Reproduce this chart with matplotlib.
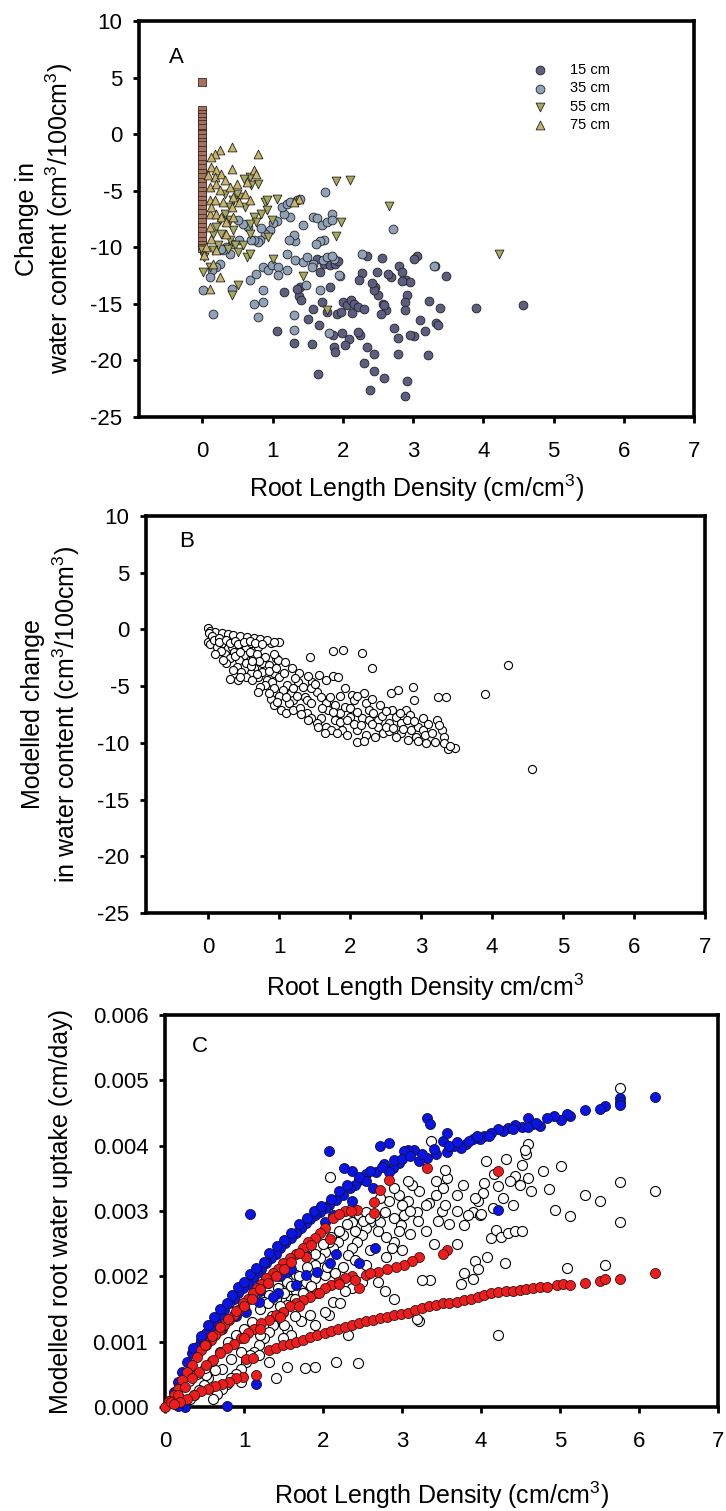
import matplotlib
matplotlib.use("Agg")
import matplotlib.pyplot as plt
import numpy as np

plt.rcParams['font.family'] = ['Liberation Sans', 'DejaVu Sans']
plt.rcParams['mathtext.default'] = 'regular'
plt.rcParams['axes.unicode_minus'] = False

## Panel A - measured change in water content vs RLD (x, y pairs)
a_15cm = [(4.57, -15.12), (3.89, -15.33), (3.47, -12.56), (3.31, -11.68), (3.23, -14.76),
          (3.39, -15.33), (3.33, -16.68), (3.35, -16.90), (3.17, -17.43), (3.21, -19.56),
          (3.10, -16.40), (3.02, -17.87), (2.95, -17.78), (2.92, -21.80), (2.88, -23.15),
          (2.78, -19.40), (2.79, -17.99), (2.73, -17.10), (3.06, -10.80), (3.02, -11.06),
          (2.90, -12.92), (2.95, -13.07), (2.91, -14.25), (2.88, -14.84), (2.88, -15.57),
          (2.80, -11.68), (2.84, -12.19), (2.85, -12.98), (2.68, -12.62), (2.64, -12.33),
          (2.61, -15.57), (2.57, -15.04), (2.54, -15.93), (2.50, -14.25), (2.49, -12.19),
          (2.56, -10.95), (2.46, -13.50), (2.44, -13.75), (2.41, -13.16), (2.35, -10.80),
          (2.27, -12.27), (2.23, -12.92), (2.25, -17.78), (2.21, -17.50), (2.35, -18.80),
          (2.45, -19.46), (2.30, -20.23), (2.45, -20.94), (2.58, -21.56), (2.39, -22.65),
          (2.09, -18.13), (2.03, -18.60), (1.99, -17.58), (1.87, -18.80), (1.89, -19.26),
          (1.86, -17.78), (1.92, -15.87), (1.98, -15.72), (2.01, -14.84), (2.06, -15.13),
          (2.11, -14.63), (2.16, -14.98), (2.21, -15.28), (2.30, -15.43), (2.13, -15.81),
          (1.82, -13.51), (1.70, -14.84), (1.78, -15.72), (1.58, -15.43), (1.51, -16.31),
          (1.66, -16.90), (1.56, -18.58), (1.65, -21.17), (1.39, -13.51), (1.37, -14.34),
          (1.41, -14.63), (1.35, -13.66), (1.17, -13.95), (1.07, -17.43), (1.31, -18.43),
          (1.68, -12.19), (1.73, -11.45), (1.82, -11.60), (1.89, -11.45), (1.93, -11.24),
          (1.63, -11.00), (2.59, -15.13)]

a_35cm = [(1.75, -5.12), (1.84, -7.03), (2.72, -8.36), (3.30, -11.68), (2.27, -10.62),
          (1.96, -12.51), (1.31, -16.02), (1.31, -17.34), (1.32, -9.48), (1.44, -8.06),
          (1.58, -7.32), (1.63, -7.38), (1.70, -8.00), (1.77, -7.77), (1.85, -7.62),
          (1.73, -9.33), (1.68, -9.45), (1.62, -9.68), (1.58, -11.45), (1.72, -11.10),
          (1.78, -10.86), (1.87, -11.01), (1.30, -8.89), (1.23, -9.39), (1.25, -7.32),
          (1.16, -7.03), (1.13, -6.44), (1.20, -6.15), (1.25, -6.00), (1.35, -5.85),
          (1.39, -5.70), (1.07, -7.68), (1.01, -7.86), (0.96, -8.50), (0.89, -8.80),
          (0.84, -8.30), (0.82, -9.39), (0.80, -9.53), (0.74, -9.39), (0.70, -9.33),
          (0.65, -8.21), (0.58, -7.91), (0.51, -7.62), (0.53, -9.39), (0.43, -9.68),
          (0.39, -10.57), (0.34, -9.98), (0.30, -10.27), (0.27, -10.12), (0.25, -11.45),
          (0.20, -11.74), (0.14, -12.04), (0.11, -12.63), (0.01, -13.80), (0.15, -15.93),
          (0.42, -13.66), (0.73, -14.99), (0.80, -16.16), (0.87, -14.84), (0.87, -13.81),
          (0.68, -12.92), (0.77, -12.33), (0.87, -11.74), (0.94, -12.04), (0.99, -11.60),
          (1.08, -11.74), (1.08, -12.48), (1.20, -12.04), (1.20, -10.57), (1.32, -11.16),
          (1.44, -11.30), (1.47, -13.37), (1.49, -10.86), (1.56, -11.74), (1.81, -17.58),
          (1.94, -12.48), (1.68, -13.81), (1.85, -10.80)]

a_55cm = [(1.90, -4.17), (2.10, -4.08), (2.66, -6.38), (4.22, -10.57), (1.98, -7.77),
          (1.90, -9.03), (1.43, -12.57), (1.78, -15.57), (1.01, -11.07), (1.06, -5.70),
          (0.89, -6.00), (0.92, -6.74), (0.80, -4.38), (0.68, -3.79), (0.70, -4.53),
          (0.60, -3.94), (0.53, -5.56), (0.49, -5.26), (0.44, -5.85), (0.39, -6.44),
          (0.32, -7.03), (0.25, -7.62), (0.20, -8.21), (0.15, -8.80), (0.39, -7.62),
          (0.44, -8.50), (0.39, -9.39), (0.37, -10.12), (0.46, -9.83), (0.51, -10.42),
          (0.63, -10.86), (0.68, -10.57), (0.58, -9.83), (0.68, -8.80), (0.73, -7.32),
          (0.77, -7.77), (0.84, -7.03), (0.92, -5.85), (0.27, -8.80), (0.22, -9.83),
          (0.15, -10.27), (0.03, -10.86), (0.01, -12.19), (0.11, -11.74), (0.51, -13.37),
          (0.42, -14.25), (0.00, -10.27), (0.68, -7.91), (0.61, -6.44), (0.99, -7.62),
          (0.94, -9.09), (0.32, -5.26)]

a_75cm = [(0.42, -1.14), (0.25, -1.43), (0.18, -1.73), (0.13, -2.02), (0.80, -1.73),
          (0.13, -2.90), (0.20, -3.20), (0.18, -3.79), (0.42, -3.05), (0.27, -3.49),
          (0.32, -4.08), (0.11, -4.67), (0.20, -4.38), (0.25, -4.97), (0.39, -4.67),
          (0.49, -4.38), (0.63, -4.23), (0.73, -3.20), (0.77, -3.49), (0.11, -5.85),
          (0.18, -5.85), (0.30, -6.00), (0.44, -5.56), (0.11, -7.03), (0.20, -7.03),
          (0.27, -7.32), (0.11, -8.21), (0.13, -9.24), (0.06, -9.98), (0.03, -10.71),
          (0.25, -12.63), (0.11, -13.66), (0.20, -10.27), (0.34, -8.80), (0.42, -6.44),
          (0.53, -6.00), (0.61, -5.26), (0.68, -5.85), (1.37, -5.70), (1.30, -6.00),
          (0.44, -7.32), (0.08, -3.64), (0.13, -6.44), (0.34, -7.77), (0.15, -11.45)]

# squares sitting on RLD = 0
a_zero = [4.6, 2.1, 1.8, 1.5, 1.2, 0.9, 0.5, 0.1, 0.0, -0.3, -0.7, -1.0, -1.4, -1.8,
          -2.2, -2.6, -3.0, -3.4, -3.8, -4.2, -4.6, -5.0, -5.4, -5.8, -6.2, -6.6, -7.0,
          -7.4, -7.8, -8.2, -8.6, -9.0, -9.4, -9.8, -10.1]

## Panel B - modelled change in water content
b_model = [(4.56, -12.3), (4.23, -3.14), (3.90, -5.66), (3.35, -5.99), (3.24, -5.99),
           (1.43, -2.40), (1.76, -1.88), (1.90, -1.80), (2.16, -2.10), (2.31, -3.40),
           (3.48, -10.50), (3.38, -10.56), (2.89, -5.05), (2.90, -6.20), (2.67, -5.30),
           (2.57, -5.60), (1.75, -4.10), (1.83, -4.20), (1.56, -4.00), (0.30, -4.40),
           (0.42, -4.46), (1.00, -1.09), (0.88, -1.18),
           (0.00, 0.09), (0.03, -0.12), (0.10, -0.20), (0.19, -0.35), (0.27, -0.44),
           (0.35, -0.50), (0.45, -0.59), (0.55, -0.70), (0.64, -0.79), (0.73, -0.88),
           (0.83, -0.94), (0.93, -1.09), (0.01, -0.35), (0.00, -1.10), (0.03, -1.30),
           (0.12, -1.53), (0.20, -1.23), (0.27, -1.67), (0.33, -1.53), (0.23, -2.17),
           (0.36, -1.97), (0.46, -1.53), (0.53, -1.67), (0.60, -1.23), (0.70, -1.53),
           (0.63, -2.41), (0.50, -2.26), (0.43, -2.70), (0.40, -3.29), (0.53, -2.99),
           (0.65, -3.43), (0.76, -2.99), (0.86, -3.14), (0.96, -2.55), (0.98, -2.70),
           (0.80, -2.41), (0.46, -3.73), (0.60, -3.87), (0.70, -4.17), (0.53, -4.17),
           (0.76, -3.73), (0.83, -4.46), (0.92, -3.87), (1.00, -4.17), (0.90, -4.61),
           (0.80, -4.90), (0.73, -5.05), (0.93, -5.19), (0.88, -6.16), (0.93, -6.66),
           (1.06, -3.87), (1.11, -4.90), (1.16, -5.63), (1.26, -4.61), (1.28, -3.87),
           (1.33, -5.05), (1.36, -5.93), (1.39, -6.22), (1.19, -6.22), (1.13, -6.52),
           (1.03, -7.10), (1.09, -7.40), (1.19, -7.10), (1.29, -6.96), (1.39, -7.40),
           (1.45, -6.52), (1.53, -5.49), (1.59, -5.93), (1.66, -6.52), (1.69, -7.10),
           (1.59, -7.84), (1.53, -8.28), (1.66, -8.57), (1.73, -8.86), (1.79, -7.98),
           (1.86, -7.40), (1.92, -6.81), (1.92, -5.19), (2.02, -5.78), (2.06, -6.22),
           (1.99, -7.69), (1.89, -8.86), (1.82, -9.15), (1.96, -9.30), (2.09, -8.86),
           (2.09, -9.89), (2.16, -7.84), (2.22, -6.52), (2.26, -7.10), (2.27, -7.98),
           (2.32, -7.40), (2.39, -7.98), (2.42, -6.66), (2.22, -9.30), (2.39, -8.57),
           (2.46, -9.15), (2.55, -8.28), (2.55, -9.00), (2.59, -7.10), (2.65, -7.69),
           (2.72, -8.28), (2.79, -7.10), (2.84, -7.54), (2.85, -8.86), (2.82, -9.74),
           (2.92, -9.45), (2.95, -8.57), (3.02, -7.84), (3.02, -8.86), (3.07, -10.04),
           (3.19, -9.89), (3.22, -7.98), (3.30, -8.86), (3.32, -9.45), (3.32, -10.04),
           (2.72, -9.15), (1.66, -4.46), (1.46, -4.61),
           (0.05, -0.60), (0.08, -0.90), (0.15, -0.80), (0.15, -1.10), (0.25, -0.90),
           (0.30, -1.20), (0.38, -1.00), (0.42, -1.30), (0.50, -1.10), (0.58, -1.00),
           (0.66, -1.20), (0.75, -1.30), (0.18, -1.90), (0.30, -2.50), (0.38, -2.30),
           (0.45, -2.00), (0.58, -2.00), (0.68, -2.20), (0.72, -2.80), (0.60, -3.20),
           (0.35, -3.60), (0.45, -4.20), (0.62, -4.50), (0.68, -3.90), (0.85, -3.70),
           (0.95, -3.40), (0.92, -2.20), (1.08, -2.90), (1.18, -3.40), (1.22, -4.30),
           (1.40, -4.10), (1.45, -5.20), (1.50, -4.80), (1.05, -5.30), (1.00, -5.90),
           (1.20, -5.20), (1.25, -5.90), (1.10, -6.00), (1.30, -7.50), (1.45, -7.80),
           (1.60, -6.90), (1.72, -6.00), (1.78, -6.70), (1.85, -5.90), (1.75, -7.30),
           (1.85, -8.20), (1.95, -8.00), (2.00, -6.90), (2.10, -7.30), (2.05, -8.30),
           (2.15, -8.40), (2.20, -9.80), (2.30, -8.30), (2.35, -9.50), (2.45, -7.60),
           (2.50, -8.60), (2.60, -8.70), (2.65, -9.50), (2.70, -7.40), (2.75, -8.80),
           (2.80, -8.00), (2.90, -8.10), (2.95, -9.80), (3.05, -9.30), (3.10, -8.30),
           (3.15, -9.10), (3.25, -8.40), (3.40, -10.30), (1.65, -9.10), (1.55, -8.60),
           (1.40, -8.00), (2.30, -6.10), (2.20, -5.60), (2.10, -5.90), (2.50, -7.20),
           (0.97, -6.40), (0.85, -5.60), (0.70, -5.50), (0.62, -2.80), (0.25, -3.00),
           (0.20, -2.70), (0.10, -2.20)]

## Panel C - modelled root water uptake (cm/day)
c_open = [(5.76, 0.00488), (6.20, 0.00330), (5.76, 0.00344), (5.76, 0.00284), (5.50, 0.00316),
          (5.31, 0.00325), (5.13, 0.00293), (4.94, 0.00302), (5.01, 0.00369), (4.86, 0.00334),
          (4.78, 0.00362), (4.60, 0.00402), (4.57, 0.00388), (4.56, 0.00394), (4.60, 0.00351),
          (4.63, 0.00330), (4.49, 0.00340), (4.52, 0.00371), (4.43, 0.00353), (4.37, 0.00346),
          (4.31, 0.00379), (4.28, 0.00320), (4.22, 0.00338), (4.16, 0.00356), (4.06, 0.00376),
          (4.04, 0.00343), (4.02, 0.00328), (3.96, 0.00315), (3.90, 0.00299), (3.93, 0.00320),
          (3.84, 0.00294), (3.78, 0.00279), (3.99, 0.00294), (4.13, 0.00259), (4.19, 0.00271),
          (4.25, 0.00261), (4.34, 0.00266), (4.43, 0.00269), (4.52, 0.00269), (5.57, 0.00217),
          (5.09, 0.00213), (4.30, 0.00220), (4.07, 0.00230), (3.93, 0.00223), (3.96, 0.00212),
          (3.78, 0.00205), (3.75, 0.00189), (3.90, 0.00196), (4.21, 0.00110), (3.22, 0.00132),
          (3.36, 0.00195), (3.25, 0.00194), (3.77, 0.00340), (3.69, 0.00325), (3.57, 0.00351),
          (3.52, 0.00335), (3.43, 0.00325), (3.34, 0.00312), (3.19, 0.00299), (3.22, 0.00330),
          (3.13, 0.00340), (3.07, 0.00315), (3.02, 0.00294), (2.99, 0.00279), (2.96, 0.00269),
          (2.90, 0.00253), (2.87, 0.00243), (2.78, 0.00299), (2.72, 0.00284), (2.66, 0.00294),
          (2.60, 0.00284), (2.55, 0.00274), (2.49, 0.00264), (2.43, 0.00253), (2.37, 0.00243),
          (2.31, 0.00233), (2.25, 0.00264), (2.19, 0.00253), (2.13, 0.00243), (2.08, 0.00253),
          (2.02, 0.00238), (1.96, 0.00228), (1.90, 0.00218), (1.84, 0.00207), (1.78, 0.00197),
          (1.72, 0.00187), (1.66, 0.00177), (1.60, 0.00166), (1.55, 0.00156), (1.49, 0.00146),
          (1.43, 0.00136), (1.37, 0.00125), (1.31, 0.00115), (1.25, 0.00105), (1.19, 0.00095),
          (1.13, 0.00084), (1.08, 0.00079), (1.02, 0.00069), (0.96, 0.00059), (0.90, 0.00051),
          (0.84, 0.00044), (0.78, 0.00036), (0.72, 0.00028), (0.66, 0.00020), (0.61, 0.00013),
          (1.72, 0.00131), (1.55, 0.00120), (1.60, 0.00110), (1.49, 0.00105), (1.84, 0.00141),
          (2.13, 0.00161), (2.22, 0.00159), (2.08, 0.00141), (1.90, 0.00125), (2.02, 0.00146),
          (2.31, 0.00110), (2.16, 0.00069), (2.44, 0.00068), (1.90, 0.00061), (1.77, 0.00060),
          (1.55, 0.00061), (1.41, 0.00044), (1.31, 0.00069), (1.19, 0.00079), (0.96, 0.00084),
          (0.84, 0.00074), (0.72, 0.00059), (0.55, 0.00044), (0.49, 0.00033), (0.43, 0.00026),
          (0.37, 0.00018), (0.31, 0.00013), (0.22, 0.00008), (2.09, 0.00352), (2.37, 0.00305),
          (2.55, 0.00218), (2.69, 0.00192), (2.90, 0.00166), (2.78, 0.00177), (2.49, 0.00192),
          (2.37, 0.00182), (2.28, 0.00177), (2.02, 0.00202), (1.90, 0.00197), (1.78, 0.00192),
          (1.66, 0.00202), (1.55, 0.00192), (1.43, 0.00182), (1.31, 0.00172), (1.25, 0.00161),
          (2.37, 0.00284), (2.46, 0.00294), (2.55, 0.00299), (2.84, 0.00315), (2.96, 0.00325),
          (3.07, 0.00346), (2.90, 0.00335), (2.72, 0.00320), (3.43, 0.00346), (3.55, 0.00363),
          (3.37, 0.00407), (3.19, 0.00135), (0.55, 0.00115), (0.63, 0.00056), (0.52, 0.00049),
          (0.96, 0.00038),
          (1.20, 0.00150), (1.30, 0.00160), (1.40, 0.00165), (1.50, 0.00175), (1.60, 0.00185),
          (1.70, 0.00200), (1.80, 0.00215), (1.90, 0.00235), (2.00, 0.00250), (2.10, 0.00260),
          (2.20, 0.00270), (2.30, 0.00280), (2.40, 0.00270), (2.50, 0.00285), (2.60, 0.00290),
          (2.70, 0.00270), (2.80, 0.00260), (2.90, 0.00290), (3.00, 0.00310), (3.10, 0.00300),
          (3.20, 0.00285), (3.30, 0.00310), (3.50, 0.00300), (3.60, 0.00280), (3.70, 0.00300),
          (1.00, 0.00120), (1.10, 0.00130), (1.20, 0.00110), (1.35, 0.00140), (1.45, 0.00155),
          (1.65, 0.00165), (1.75, 0.00175), (1.85, 0.00185), (2.05, 0.00215), (2.15, 0.00205),
          (2.25, 0.00215), (2.40, 0.00225), (2.60, 0.00240), (0.80, 0.00100), (0.70, 0.00085),
          (0.60, 0.00070), (0.50, 0.00060), (0.40, 0.00050), (0.30, 0.00040), (0.90, 0.00110),
          (1.50, 0.00125), (1.65, 0.00140), (2.80, 0.00230), (3.00, 0.00240), (3.10, 0.00265),
          (3.30, 0.00270), (3.45, 0.00285), (3.55, 0.00310), (4.00, 0.00295), (4.15, 0.00305),
          (4.40, 0.00310), (3.40, 0.00250), (3.70, 0.00250)]

c_blue = [(6.20, 0.00475), (5.76, 0.00473), (5.76, 0.00467), (5.76, 0.00463), (5.57, 0.00461),
          (5.50, 0.00457), (5.31, 0.00454), (5.13, 0.00445), (5.09, 0.00449), (5.01, 0.00440),
          (4.93, 0.00445), (4.84, 0.00442), (4.75, 0.00430), (4.66, 0.00433), (4.59, 0.00442),
          (4.52, 0.00429), (4.43, 0.00432), (4.34, 0.00427), (4.28, 0.00422), (4.22, 0.00425),
          (4.13, 0.00420), (4.04, 0.00415), (3.99, 0.00410), (3.90, 0.00410), (3.81, 0.00402),
          (3.75, 0.00397), (3.66, 0.00399), (3.57, 0.00391), (3.52, 0.00408), (3.57, 0.00420),
          (3.43, 0.00387), (3.31, 0.00381), (3.22, 0.00376), (3.15, 0.00394), (3.07, 0.00393),
          (3.02, 0.00392), (2.96, 0.00374), (2.89, 0.00366), (2.83, 0.00360), (2.77, 0.00372),
          (2.67, 0.00360), (2.83, 0.00404), (2.72, 0.00399), (3.31, 0.00443), (3.36, 0.00433),
          (2.55, 0.00356), (2.46, 0.00348), (2.40, 0.00340), (2.37, 0.00361), (2.26, 0.00366),
          (2.34, 0.00335), (2.25, 0.00325), (2.16, 0.00317), (2.08, 0.00310), (2.02, 0.00305),
          (1.96, 0.00299), (1.90, 0.00294), (1.84, 0.00288), (1.78, 0.00282), (1.72, 0.00274),
          (1.66, 0.00266), (1.59, 0.00259), (1.52, 0.00251), (1.46, 0.00243), (1.40, 0.00235),
          (1.34, 0.00228), (1.28, 0.00220), (1.22, 0.00212), (1.16, 0.00205), (1.11, 0.00197),
          (1.05, 0.00189), (0.99, 0.00182), (0.93, 0.00174), (0.87, 0.00166), (0.81, 0.00159),
          (0.75, 0.00148), (0.69, 0.00141), (0.63, 0.00131), (0.58, 0.00120), (0.52, 0.00113),
          (0.46, 0.00102), (0.40, 0.00092), (0.34, 0.00082), (0.28, 0.00069), (0.22, 0.00054),
          (0.16, 0.00038), (0.11, 0.00023), (0.05, 0.00010), (1.08, 0.00296), (2.08, 0.00392),
          (4.22, 0.00302), (2.66, 0.00243), (2.09, 0.00221), (1.78, 0.00202), (1.93, 0.00207),
          (1.66, 0.00187), (1.43, 0.00174), (1.37, 0.00169), (1.19, 0.00161), (1.02, 0.00146),
          (0.72, 0.00120), (1.15, 0.00036), (0.78, 0.00002), (0.25, 0.00000), (0.16, 0.00002),
          (1.78, 0.00233), (2.16, 0.00235), (2.45, 0.00220), (1.55, 0.00207), (2.02, 0.00284),
          (2.13, 0.00294), (2.37, 0.00315), (2.55, 0.00346), (2.63, 0.00335),
          (0.35, 0.00090), (0.45, 0.00108), (0.55, 0.00125), (0.62, 0.00138), (0.70, 0.00150),
          (0.78, 0.00160), (0.85, 0.00172), (0.92, 0.00183), (1.00, 0.00192), (1.08, 0.00203),
          (1.15, 0.00213), (1.25, 0.00222), (1.32, 0.00236), (1.42, 0.00246), (1.50, 0.00256),
          (1.60, 0.00266), (1.70, 0.00280), (1.80, 0.00290), (1.88, 0.00300), (1.98, 0.00308),
          (2.10, 0.00318), (2.20, 0.00330), (2.30, 0.00340), (2.45, 0.00352), (2.60, 0.00362),
          (2.75, 0.00368), (2.90, 0.00378), (3.00, 0.00380), (3.10, 0.00384), (3.25, 0.00388),
          (3.40, 0.00395), (3.60, 0.00400), (3.70, 0.00405), (3.85, 0.00408), (3.95, 0.00415),
          (4.10, 0.00415), (4.40, 0.00425), (4.60, 0.00428), (4.70, 0.00435), (0.90, 0.00140),
          (1.00, 0.00155), (1.10, 0.00170), (1.20, 0.00178), (1.30, 0.00190), (1.45, 0.00200),
          (1.60, 0.00212)]

c_red = [(3.31, 0.00366), (2.84, 0.00347), (2.72, 0.00333), (2.65, 0.00314), (2.65, 0.00297),
         (2.43, 0.00302), (2.28, 0.00300), (2.13, 0.00289), (2.02, 0.00274), (1.96, 0.00266),
         (1.90, 0.00259), (1.81, 0.00253), (1.75, 0.00243), (1.66, 0.00235), (1.58, 0.00228),
         (1.49, 0.00220), (1.43, 0.00212), (1.37, 0.00205), (1.28, 0.00197), (1.22, 0.00189),
         (1.16, 0.00182), (1.11, 0.00174), (1.05, 0.00166), (0.99, 0.00159), (0.93, 0.00148),
         (0.87, 0.00141), (0.81, 0.00133), (0.75, 0.00125), (0.69, 0.00118), (0.63, 0.00110),
         (0.58, 0.00102), (0.52, 0.00095), (0.46, 0.00087), (0.40, 0.00077), (0.34, 0.00064),
         (0.28, 0.00054), (0.22, 0.00041), (0.16, 0.00028), (0.11, 0.00018), (0.05, 0.00009),
         (4.22, 0.00361), (2.09, 0.00257), (1.78, 0.00230), (0.00, 0.00000),
         (3.57, 0.00241), (3.52, 0.00235), (3.22, 0.00229), (3.13, 0.00224), (3.02, 0.00218),
         (2.93, 0.00215), (2.81, 0.00212), (2.69, 0.00207), (2.55, 0.00202), (2.45, 0.00182),
         (2.37, 0.00200), (2.28, 0.00197), (2.19, 0.00192), (2.10, 0.00187), (2.02, 0.00182),
         (1.93, 0.00174), (1.84, 0.00169), (1.75, 0.00164), (1.66, 0.00159), (1.58, 0.00154),
         (1.49, 0.00146), (1.40, 0.00141), (1.31, 0.00133), (1.22, 0.00128), (1.13, 0.00120),
         (1.05, 0.00113), (0.96, 0.00105), (0.87, 0.00097), (0.78, 0.00090), (0.69, 0.00082),
         (0.61, 0.00072), (0.52, 0.00064), (0.43, 0.00054), (0.34, 0.00044), (0.25, 0.00031),
         (0.16, 0.00018), (0.08, 0.00008),
         (1.15, 0.00049), (0.99, 0.00046), (0.90, 0.00044), (0.81, 0.00039), (0.72, 0.00036),
         (0.63, 0.00032), (0.55, 0.00028), (0.46, 0.00024), (0.37, 0.00018), (0.28, 0.00013),
         (0.19, 0.00008), (0.11, 0.00004),
         (1.02, 0.00074), (1.11, 0.00075), (1.31, 0.00087), (1.40, 0.00091), (1.49, 0.00095),
         (1.58, 0.00097), (1.66, 0.00100), (1.75, 0.00103), (1.84, 0.00107), (1.93, 0.00110),
         (2.02, 0.00113), (2.10, 0.00116), (2.19, 0.00120), (2.28, 0.00123), (2.37, 0.00125),
         (2.46, 0.00128), (2.55, 0.00132), (2.63, 0.00134), (2.72, 0.00136), (2.81, 0.00138),
         (2.90, 0.00141), (2.99, 0.00142), (3.07, 0.00144), (3.16, 0.00148), (3.25, 0.00151),
         (3.34, 0.00154), (3.43, 0.00156), (3.52, 0.00159), (3.60, 0.00160), (3.69, 0.00161),
         (3.78, 0.00164), (3.87, 0.00166), (3.96, 0.00169), (4.04, 0.00172), (4.13, 0.00174),
         (4.22, 0.00176), (4.31, 0.00177), (4.40, 0.00178), (4.49, 0.00179), (4.57, 0.00181),
         (4.66, 0.00182), (4.75, 0.00183), (4.84, 0.00184), (4.96, 0.00187), (5.04, 0.00189),
         (5.13, 0.00187), (5.31, 0.00190), (5.51, 0.00193), (5.57, 0.00196), (5.76, 0.00196),
         (6.20, 0.00205),
         (0.50, 0.00095), (0.60, 0.00108), (0.70, 0.00122), (0.80, 0.00135), (0.90, 0.00147),
         (1.00, 0.00155), (1.10, 0.00165), (1.20, 0.00180), (1.30, 0.00190), (1.40, 0.00200),
         (1.50, 0.00212), (1.60, 0.00222), (1.70, 0.00236), (1.85, 0.00248), (2.20, 0.00296),
         (2.35, 0.00300),
         (1.00, 0.00105), (1.20, 0.00120), (1.45, 0.00138), (1.70, 0.00155), (1.95, 0.00175),
         (2.20, 0.00188), (2.40, 0.00195), (2.60, 0.00205)]

cols_A = {'15 cm': '#5b5e80', '35 cm': '#8fa2b8', '55 cm': '#a9a95c', '75 cm': '#c9b46a'}


def style(ax):
    for s in ax.spines.values():
        s.set_linewidth(2.6)
    ax.tick_params(direction='out', length=4, width=2, labelsize=16)
    ax.tick_params(axis='x', pad=13)
    ax.tick_params(axis='y', pad=8)


fig = plt.figure(figsize=(7.26, 15.11), dpi=100)

## A
ax = fig.add_axes([0.1915, 0.724, 0.7645, 0.2621])
ax.scatter(np.zeros(len(a_zero)), a_zero, marker='s', s=34, c='#a8705e',
           edgecolors='#3a2a20', linewidths=0.6, zorder=2)
for name, pts, mk in [('15 cm', a_15cm, 'o'), ('35 cm', a_35cm, 'o'),
                      ('55 cm', a_55cm, 'v'), ('75 cm', a_75cm, '^')]:
    p = np.array(pts)
    ax.scatter(p[:, 0], p[:, 1], marker=mk, s=40, c=cols_A[name],
               edgecolors='#222222', linewidths=0.6, label=name, zorder=3)
ax.set_xlim(-0.9, 7)
ax.set_ylim(-25, 10)
ax.set_xticks(range(0, 8))
ax.set_yticks(range(-25, 11, 5))
style(ax)
ax.text(0.068, 0.909, 'A', transform=ax.transAxes, fontsize=16, ha='center', va='center')
ax.legend(loc='upper left', bbox_to_anchor=(0.71, 0.894), frameon=False, fontsize=10.5,
          handlelength=1, handletextpad=1.5, labelspacing=0.3, borderpad=0,
          borderaxespad=0)
ax.set_xlabel('Root Length Density (cm/cm$^3$)', fontsize=18, labelpad=8)
ax.set_ylabel('Change in\nwater content (cm$^3$/100cm$^3$)', fontsize=18, labelpad=11)

## B
ax = fig.add_axes([0.201, 0.3958, 0.770, 0.2627])
p = np.array(b_model)
ax.scatter(p[:, 0], p[:, 1], marker='o', s=34, facecolors='white',
           edgecolors='black', linewidths=0.8, zorder=3)
ax.set_xlim(-0.88, 7)
ax.set_ylim(-25, 10)
ax.set_xticks(range(0, 8))
ax.set_yticks(range(-25, 11, 5))
style(ax)
ax.text(0.072, 0.935, 'B', transform=ax.transAxes, fontsize=16, ha='center', va='center')
ax.set_xlabel('Root Length Density cm/cm$^3$', fontsize=18, labelpad=10)
ax.set_ylabel('Modelled change\nin water content (cm$^3$/100cm$^3$)', fontsize=18, labelpad=11)

## C
ax = fig.add_axes([0.2273, 0.0688, 0.7617, 0.2594])
p = np.array(c_open)
ax.scatter(p[:, 0], p[:, 1], marker='o', s=52, facecolors='white',
           edgecolors='black', linewidths=0.8, zorder=2, clip_on=False)
p = np.array(c_blue)
ax.scatter(p[:, 0], p[:, 1], marker='o', s=52, c='#0a14e6',
           edgecolors='#111133', linewidths=0.6, zorder=3, clip_on=False)
p = np.array(c_red)
ax.scatter(p[:, 0], p[:, 1], marker='o', s=52, c='#ee1c1c',
           edgecolors='#331111', linewidths=0.6, zorder=4, clip_on=False)
ax.set_xlim(0, 7)
ax.set_ylim(0, 0.006)
ax.set_xticks(range(0, 8))
ax.set_yticks([0, 0.001, 0.002, 0.003, 0.004, 0.005, 0.006])
ax.set_yticklabels(['%.3f' % v for v in [0, 0.001, 0.002, 0.003, 0.004, 0.005, 0.006]])
style(ax)
ax.text(0.063, 0.919, 'C', transform=ax.transAxes, fontsize=16, ha='center', va='center')
ax.set_xlabel('Root Length Density (cm/cm$^3$)', fontsize=18, labelpad=20)
ax.set_ylabel('Modelled root water uptake (cm/day)', fontsize=18, labelpad=14)

fig.savefig('out.png', dpi=100)
